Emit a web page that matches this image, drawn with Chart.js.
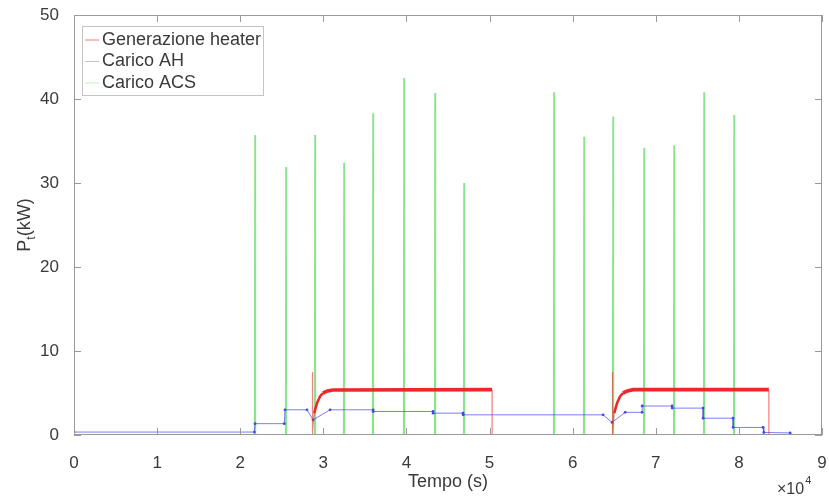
<!DOCTYPE html>
<html>
<head>
<meta charset="utf-8">
<script src="https://cdn.jsdelivr.net/npm/chart.js@4.4.1/dist/chart.umd.min.js"></script>
<style>
  html, body { margin: 0; padding: 0; background: #fff; }
  #wrap { width: 829px; height: 499px; position: relative; }
</style>
</head>
<body>
<div id="wrap"><canvas id="powerChart" width="829" height="499"></canvas></div>
<script>
// Heater generation (kW) — two heating periods, null breaks the line
const heaterT = [28640, 28680, 28720, 28900, 29240, 29600, 29960, 30500, 31170, 50300, 50310,
                 57000,
                 64740, 64780, 64820, 65000, 65340, 65700, 66060, 66600, 67270, 83600, 83610];
const heaterP = [0, 7.5, 0.5, 2.6, 3.8, 4.6, 5.0, 5.25, 5.35, 5.4, 0,
                 null,
                 0, 7.5, 0.5, 2.6, 3.8, 4.6, 5.0, 5.25, 5.4, 5.4, 0];

// AH load (kW)
const ahT = [0, 21700, 21780, 25300, 25390, 28040, 28760, 30810, 35980, 36000, 43200, 43210,
             46810, 46820, 63660, 64740, 66310, 68350, 68360, 71960, 71970, 75690, 75700,
             79300, 79310, 82910, 83000, 86160, 86200, 90000];
const ahP = [0.35, 0.35, 1.35, 1.35, 3.0, 3.0, 1.8, 3.0, 3.0, 2.8, 2.8, 2.6,
             2.6, 2.4, 2.4, 1.5, 2.7, 2.7, 3.45, 3.45, 3.2, 3.2, 2.0,
             2.0, 0.9, 0.9, 0.3, 0.25, 0.05, 0.05];

// ACS load spikes (time of draw, peak kW)
const acsT    = [21780, 25510, 29000, 32490, 35980, 39710, 43440, 46930,
                 57760, 61370, 64860, 68590, 72200, 75810, 79420];
const acsPeak = [35.7, 31.9, 35.7, 32.4, 38.3, 42.5, 40.7, 30.0,
                 40.8, 35.5, 37.9, 34.2, 34.5, 40.8, 38.1];

const xTicks = [0, 1, 2, 3, 4, 5, 6, 7, 8, 9];   // ×10^4 s
const yTicks = [0, 10, 20, 30, 40, 50];

const FONT = '"Liberation Sans", Arial, sans-serif';
const TEXT = '#3a3a3a';

const heaterData = heaterT.map((t, i) => ({ x: t, y: heaterP[i] }));
const ahData = ahT.map((t, i) => ({ x: t, y: ahP[i] }));
const acsData = [{ x: 0, y: 0 }];
acsT.forEach((t, i) => {
    acsData.push({ x: t - 40, y: 0 }, { x: t, y: acsPeak[i] }, { x: t + 40, y: 0 });
});
acsData.push({ x: 90000, y: 0 });

// heater trace is a noisy band once running, thin on the on/off edges
const segLow = c => Math.min(c.p0.parsed.y, c.p1.parsed.y);
const heaterWidth = c => segLow(c) > 4.8 ? 3.6 : segLow(c) > 2.5 ? 2.6 : 1.2;
const heaterColor = c => segLow(c) > 2.5 ? 'rgb(236,40,40)' : 'rgba(236,45,45,0.6)';

// box + inward ticks, legend, axis titles
const matlabFrame = {
    id: 'matlabFrame',
    afterDatasetsDraw(chart) {
        const { ctx, chartArea: a, scales: { x, y } } = chart;
        ctx.save();
        ctx.strokeStyle = '#9a9a9a';
        ctx.lineWidth = 1;
        ctx.strokeRect(a.left + 0.5, a.top + 0.5, a.right - a.left - 1, a.bottom - a.top - 1);
        ctx.beginPath();
        xTicks.forEach(v => {
            const px = Math.round(x.getPixelForValue(v * 10000)) + 0.5;
            ctx.moveTo(px, a.bottom); ctx.lineTo(px, a.bottom - 7);
            ctx.moveTo(px, a.top);    ctx.lineTo(px, a.top + 7);
        });
        yTicks.forEach(v => {
            const py = Math.round(y.getPixelForValue(v)) + 0.5;
            ctx.moveTo(a.left, py);  ctx.lineTo(a.left + 7, py);
            ctx.moveTo(a.right, py); ctx.lineTo(a.right - 7, py);
        });
        ctx.stroke();
        ctx.restore();
    },
    afterDraw(chart) {
        const ctx = chart.ctx;
        ctx.save();

        // legend box
        ctx.fillStyle = '#fff';
        ctx.strokeStyle = '#c4c4c4';
        ctx.lineWidth = 1;
        ctx.fillRect(82.5, 26.5, 181, 69);
        ctx.strokeRect(82.5, 26.5, 181, 69);
        ctx.font = '18px ' + FONT;
        ctx.textBaseline = 'middle';
        const sample = ['rgba(236,45,45,0.6)', 'rgba(70,70,235,0.35)', 'rgba(80,210,80,0.35)'];
        chart.data.datasets.forEach((ds, i) => {
            const ly = 40 + i * 21.5;
            ctx.strokeStyle = sample[i];
            ctx.lineWidth = 1;
            ctx.beginPath();
            ctx.moveTo(85, ly); ctx.lineTo(99, ly);
            ctx.stroke();
            ctx.fillStyle = TEXT;
            ctx.fillText(ds.label, 102, ly);
        });

        // x title
        ctx.textAlign = 'center';
        ctx.textBaseline = 'middle';
        ctx.font = '18px ' + FONT;
        ctx.fillText('Tempo (s)', 448, 482);

        // exponent of the x axis
        ctx.textAlign = 'left';
        ctx.textBaseline = 'alphabetic';
        ctx.font = '16px ' + FONT;
        ctx.fillText('\u00d710', 777, 494);
        const w = ctx.measureText('\u00d710').width;
        ctx.font = '11px ' + FONT;
        ctx.fillText('4', 777 + w + 1, 484);

        // y title with subscript
        ctx.translate(24, 225);
        ctx.rotate(-Math.PI / 2);
        ctx.font = '18px ' + FONT;
        const wP = ctx.measureText('P').width;
        const wR = ctx.measureText('(kW)').width;
        ctx.font = '12px ' + FONT;
        const wt = ctx.measureText('t').width;
        let cx = -(wP + wt + wR) / 2;
        ctx.font = '18px ' + FONT;
        ctx.fillText('P', cx, 6);
        cx += wP;
        ctx.font = '12px ' + FONT;
        ctx.fillText('t', cx, 11);
        cx += wt;
        ctx.font = '18px ' + FONT;
        ctx.fillText('(kW)', cx, 6);

        ctx.restore();
    }
};

new Chart(document.getElementById('powerChart'), {
    type: 'line',
    data: {
        datasets: [
            { label: 'Generazione heater', data: heaterData, borderColor: 'rgba(236,45,45,0.6)', borderWidth: 1.2,
              pointRadius: 0, tension: 0, spanGaps: false,
              segment: { borderWidth: heaterWidth, borderColor: heaterColor } },
            { label: 'Carico AH', data: ahData, borderColor: 'rgba(70,70,235,0.7)', borderWidth: 1,
              pointRadius: 1.4, pointBackgroundColor: 'rgb(70,70,235)', pointBorderWidth: 0, tension: 0 },
            { label: 'Carico ACS', data: acsData, borderColor: 'rgba(80,210,80,0.65)', borderWidth: 1.6,
              pointRadius: 0, tension: 0 }
        ]
    },
    options: {
        responsive: false,
        animation: false,
        events: [],
        layout: { padding: { top: 15, right: 7, left: 0, bottom: 0 } },
        plugins: { legend: { display: false }, tooltip: { enabled: false } },
        scales: {
            x: {
                type: 'linear', min: 0, max: 90000,
                afterFit: s => { s.height = 64; s.paddingLeft = 0; s.paddingRight = 0; },
                afterBuildTicks: s => { s.ticks = xTicks.map(v => ({ value: v * 10000 })); },
                ticks: { callback: v => v / 10000, padding: 10, color: TEXT, maxRotation: 0, autoSkip: false,
                         font: { family: FONT, size: 17 } },
                grid: { display: false },
                border: { display: false }
            },
            y: {
                min: 0, max: 50,
                afterFit: s => { s.width = 74; s.paddingTop = 0; s.paddingBottom = 0; },
                afterBuildTicks: s => { s.ticks = yTicks.map(v => ({ value: v })); },
                ticks: { padding: 7, color: TEXT, font: { family: FONT, size: 17 } },
                grid: { display: false },
                border: { display: false }
            }
        }
    },
    plugins: [matlabFrame]
});
</script>
</body>
</html>
